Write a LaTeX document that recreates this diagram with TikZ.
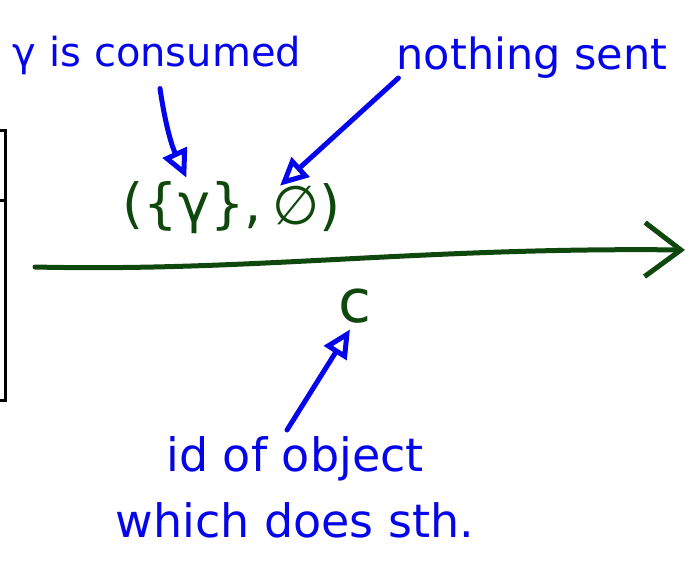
\documentclass[tikz,border=0pt]{standalone}
\usepackage{fontspec}
\setmainfont{DejaVu Sans}
\usetikzlibrary{arrows.meta,positioning}
\definecolor{handblue}{RGB}{5,5,235}
\definecolor{handgreen}{RGB}{15,72,12}

\begin{document}
\begin{tikzpicture}[x=1pt,y=-1pt,
  hand/.style={line width=5pt, line cap=round, line join=round},
  note/.style={text=handblue, font=\fontsize{40}{66}\selectfont, align=center, inner sep=0pt},
  pairtext/.style={text=handgreen, font=\fontsize{54}{60}\selectfont, inner sep=0pt},
  remark/.style={hand, handblue, -{Triangle[open,length=28pt,width=26pt]}},
  timeline/.style={hand, handgreen, -{Straight Barb[length=36pt,width=54pt]}}]
  \useasboundingbox (0,0) rectangle (690,562);
  % Box cut at the left edge
  \draw[line width=3pt] (0,130) -- (5,130) -- (5,400) -- (0,400);
  \draw[line width=3pt] (0,200) -- (5,200);
  % Labels on top
  \node[note] (consumed) at (157,55) {γ is consumed};
  \node[note, font=\fontsize{43}{66}\selectfont] (nothing) at (532,58) {nothing sent};
  % The pair above the line
  \node[pairtext, anchor=east] (gam) at (262,208) {(\{γ\},};
  \node[pairtext, right=10pt of gam] (emp) {∅)};
  % Arrows to the pair
  \draw[remark] ([xshift=3pt,yshift=-14pt]consumed.south) to[bend right=8] ([xshift=-6pt,yshift=4pt]gam.north);
  \draw[remark] ([xshift=2pt,yshift=-20pt]nothing.west) -- ([xshift=8pt,yshift=-2pt]emp.north west);
  % Time line
  \coordinate (tstart) at (35,267);
  \coordinate (tend) at (685,250);
  \draw[timeline] (tstart) .. controls (250,272) and (420,247) .. (tend);
  % Object id below the line
  \node[pairtext, font=\fontsize{60}{60}\selectfont] (cid) at (355,306) {c};
  \node[note, font=\fontsize{46}{66}\selectfont] (idtext) at (295,487) {id of object\\which does sth.};
  \draw[remark] ([xshift=-8pt,yshift=6pt]idtext.north) -- ([xshift=-5pt,yshift=-6pt]cid.south);
\end{tikzpicture}
\end{document}
